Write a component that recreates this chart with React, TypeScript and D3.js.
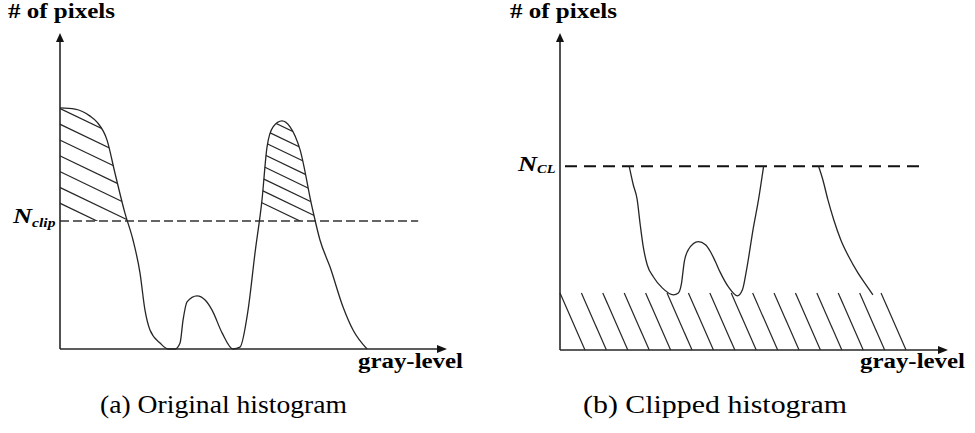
import { scaleLinear, area as d3_area, line as d3_line, curveMonotoneX, range } from "d3";

// (a) original histogram (gray-level 0-255, count in % of axis height)
const origLevels = [0, 9.9, 19.8, 24.4, 31, 36.2, 42.8, 48.1, 52.7, 56, 59.3, 65.9, 71.2, 75.8, 79.1, 81.1, 83.7, 90.3, 95.6, 100.2, 106.8, 114, 118.6, 123.9, 128.5, 133.1, 136.4, 140.4, 146.3, 151.6, 158.2, 166.1, 171.3, 177.9, 186.5, 193.1, 202.3];
const origCounts = [76.3, 75.9, 73.7, 71.8, 66.1, 55.7, 43, 34.5, 24.1, 12.3, 6, 1.9, 0, 0, 1.9, 9.2, 14.9, 16.8, 15.5, 12.3, 5.1, 0, 0.6, 12.3, 30.4, 47.2, 63.9, 70.3, 72.2, 70.3, 63, 44.9, 34.5, 26, 13.3, 6, 0];

// (b) clipped histogram, two visible pieces below N_CL
const clipLeftLevels = [45.5, 48.1, 50.7, 52.7, 54.7, 57.3, 61.3, 67.2, 74.5, 77.8, 79.7, 81.7, 84.4, 90.9, 95.6, 98.9, 102.1, 105.4, 110.7, 116.6, 119.9, 122.6, 127.2, 130.5, 133.8];
const clipLeftCounts = [57.9, 52.2, 47.5, 39.6, 32.6, 26.9, 23.1, 19.6, 17.4, 18, 20.6, 27.9, 31.7, 34.2, 33.2, 31, 27.9, 24.4, 19.9, 17.1, 19, 25.3, 38.9, 47.5, 57.9];
const clipRightLevels = [170, 172.7, 176, 179.9, 184.5, 189.8, 195.7, 201, 205.6];
const clipRightCounts = [57.9, 53.8, 47.5, 41.1, 34.8, 29.4, 24.4, 20.6, 17.4];

const N_CLIP = 40.5;
const N_CL = 58;
const REDIST = 18; // redistributed band height
const REDIST_END = 211; // last gray-level where band hatch starts
const CLIP_LINE_END_A = 236;
const CLIP_LINE_END_B = 237;

const FONT = "Liberation Serif, Times New Roman, Times, serif";
const INK = "#262626";

type Pt = { x: number; y: number };
const zip = (xs: number[], ys: number[]): Pt[] => xs.map((x, i) => ({ x, y: ys[i] }));

function Arrows({ x0, y0, x1, y1 }: { x0: number; y0: number; x1: number; y1: number }) {
  return (
    <g>
      <line x1={x0} y1={y0} x2={x0} y2={y1 + 6} stroke={INK} strokeWidth={1.6} />
      <line x1={x0} y1={y0} x2={x1 - 6} y2={y0} stroke={INK} strokeWidth={1.6} />
      <path d={`M${x0},${y1} L${x0 - 4},${y1 + 9} L${x0 + 4},${y1 + 9} Z`} fill="#111" />
      <path d={`M${x1},${y0} L${x1 - 10},${y0 - 4} L${x1 - 10},${y0 + 4} Z`} fill="#111" />
    </g>
  );
}

// family of parallel hatch lines through an anchor, stepping upward
function hatchFamily(ax: number, ay: number, slope: number, step: number, n: number, xa: number, xb: number) {
  return range(0, n).map((k) => {
    const yb = ay - k * step;
    return { x1: xa, y1: yb + slope * (xa - ax), x2: xb, y2: yb + slope * (xb - ax) };
  });
}

export default function App() {
  const xA = scaleLinear().domain([0, 255]).range([60, 447]);
  const yA = scaleLinear().domain([0, 100]).range([349, 33]);
  const xB = scaleLinear().domain([0, 255]).range([560, 948]);
  const yB = scaleLinear().domain([0, 100]).range([350, 33]);

  const orig = zip(origLevels, origCounts);
  const lineA = d3_line<Pt>().x((d) => xA(d.x)).y((d) => yA(d.y)).curve(curveMonotoneX);
  const areaA = d3_area<Pt>().x((d) => xA(d.x)).y0(yA(0)).y1((d) => yA(d.y)).curve(curveMonotoneX);
  const lineB = d3_line<Pt>().x((d) => xB(d.x)).y((d) => yB(d.y)).curve(curveMonotoneX);

  const clipY = yA(N_CLIP);
  const leftHatch = hatchFamily(97, clipY, 0.48, 15.8, 8, 55, 180);
  const rightHatch = hatchFamily(300, clipY, 0.48, 12.3, 9, 230, 360);

  const bandTop = yB(REDIST);
  const bandStep = (xB(REDIST_END) - xB(0)) / 15;
  const bandHatch = range(0, 16).map((i) => xB(0) + i * bandStep);

  const txt = { fontFamily: FONT };

  return (
    <svg width={975} height={433} style={{ position: "absolute", left: 0, top: 0, background: "#fff" }}>
      <defs>
        <clipPath id="underA">
          <path d={areaA(orig) ?? ""} />
        </clipPath>
        <clipPath id="aboveClip">
          <rect x={xA(0)} y={0} width={xA(255) - xA(0)} height={clipY} />
        </clipPath>
      </defs>

      {/* (a) Original histogram */}
      <g clipPath="url(#aboveClip)">
        <g clipPath="url(#underA)">
          {[...leftHatch, ...rightHatch].map((l, i) => (
            <line key={i} {...l} stroke={INK} strokeWidth={1.2} />
          ))}
        </g>
      </g>
      <line x1={xA(0)} x2={xA(CLIP_LINE_END_A)} y1={clipY} y2={clipY} stroke="#333" strokeWidth={1.3} strokeDasharray="9 4" />
      <path d={lineA(orig) ?? ""} fill="none" stroke={INK} strokeWidth={1.3} />
      <Arrows x0={xA(0)} y0={yA(0)} x1={xA(255)} y1={yA(100)} />

      <text x={8} y={18} style={txt} fontWeight="bold" fontSize={20} textLength={107} lengthAdjust="spacingAndGlyphs">
        # of pixels
      </text>
      <text x={358} y={368} style={txt} fontWeight="bold" fontSize={20} textLength={105} lengthAdjust="spacingAndGlyphs">
        gray-level
      </text>
      <g transform={`translate(13,${clipY + 2}) scale(1.2,1)`}>
        <text style={txt} fontWeight="bold" fontStyle="italic" fontSize={22}>
          N<tspan fontSize={13} dy={4}>clip</tspan>
        </text>
      </g>
      <text x={100} y={413} style={txt} fontSize={25} textLength={247} lengthAdjust="spacingAndGlyphs">
        (a) Original histogram
      </text>

      {/* (b) Clipped histogram */}
      {bandHatch.map((x, i) => (
        <line key={i} x1={x} y1={bandTop} x2={x + 25} y2={yB(0)} stroke={INK} strokeWidth={1.2} />
      ))}
      <line x1={xB(0) + 5} x2={xB(CLIP_LINE_END_B)} y1={yB(N_CL)} y2={yB(N_CL)} stroke="#111" strokeWidth={2} strokeDasharray="12 7" />
      <path d={lineB(zip(clipLeftLevels, clipLeftCounts)) ?? ""} fill="none" stroke={INK} strokeWidth={1.3} />
      <path d={lineB(zip(clipRightLevels, clipRightCounts)) ?? ""} fill="none" stroke={INK} strokeWidth={1.3} />
      <Arrows x0={xB(0)} y0={yB(0)} x1={xB(255)} y1={yB(100)} />

      <text x={510} y={18} style={txt} fontWeight="bold" fontSize={20} textLength={107} lengthAdjust="spacingAndGlyphs">
        # of pixels
      </text>
      <text x={860} y={368} style={txt} fontWeight="bold" fontSize={20} textLength={105} lengthAdjust="spacingAndGlyphs">
        gray-level
      </text>
      <g transform={`translate(518,${yB(N_CL) + 5}) scale(1.2,1)`}>
        <text style={txt} fontWeight="bold" fontStyle="italic" fontSize={22}>
          N<tspan fontSize={12} dy={2}>CL</tspan>
        </text>
      </g>
      <text x={583} y={413} style={txt} fontSize={25} textLength={264} lengthAdjust="spacingAndGlyphs">
        (b) Clipped histogram
      </text>
    </svg>
  );
}
